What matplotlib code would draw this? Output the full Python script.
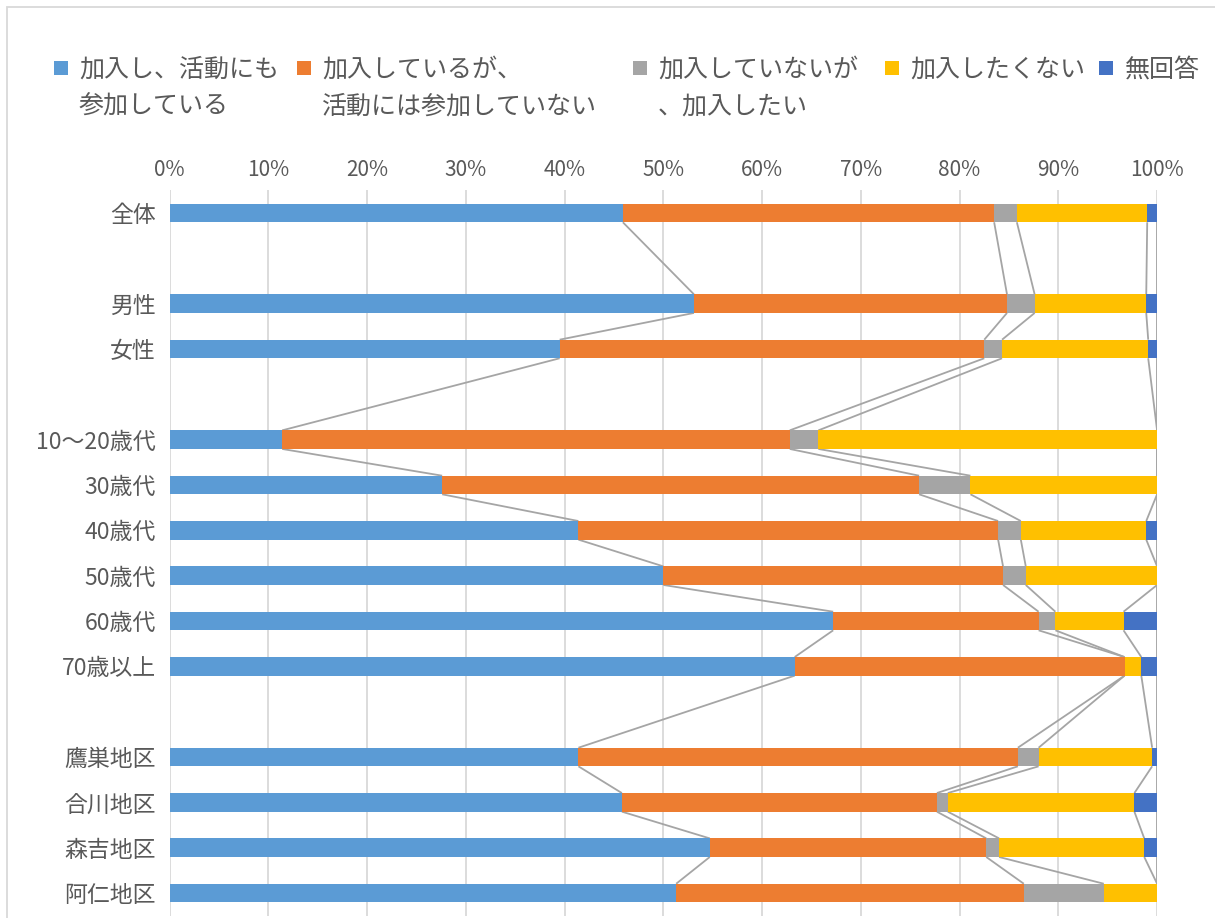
import matplotlib
matplotlib.use("Agg")
import matplotlib.pyplot as plt
from matplotlib.patches import Rectangle
import numpy as np

plt.rcParams['font.family'] = ['Noto Sans CJK JP', 'DejaVu Sans']

# ---- data ----
categories = ['全体', '', '男性', '女性', '', '10〜20歳代', '30歳代', '40歳代', '50歳代',
              '60歳代', '70歳以上', '', '鷹巣地区', '合川地区', '森吉地区', '阿仁地区']
series_names = ['加入し、活動にも\n参加している', '加入しているが、\n活動には参加していない',
                '加入していないが\n、加入したい', '加入したくない', '無回答']
colors = ['#5B9BD5', '#ED7D31', '#A5A5A5', '#FFC000', '#4472C4']

s_active = [45.9, None, 53.1, 39.5, None, 11.4, 27.6, 41.4, 50.0, 67.2, 63.3, None, 41.4, 45.8, 54.7, 51.3]
s_inactive = [37.6, None, 31.7, 43.0, None, 51.4, 48.3, 42.5, 34.4, 20.8, 33.4, None, 44.5, 31.9, 28.0, 35.2]
s_want = [2.3, None, 2.8, 1.8, None, 2.9, 5.2, 2.3, 2.3, 1.7, 0.0, None, 2.1, 1.1, 1.3, 8.1]
s_not_want = [13.2, None, 11.3, 14.8, None, 34.3, 18.9, 12.7, 13.3, 6.9, 1.7, None, 11.5, 18.9, 14.7, 5.4]
s_noans = [1.0, None, 1.1, 0.9, None, 0.0, 0.0, 1.1, 0.0, 3.4, 1.6, None, 0.5, 2.3, 1.3, 0.0]
series = [s_active, s_inactive, s_want, s_not_want, s_noans]
xticks = [0, 10, 20, 30, 40, 50, 60, 70, 80, 90, 100]

W, H = 1215, 918
fig = plt.figure(figsize=(W / 100, H / 100), dpi=100)
ax = fig.add_axes([169.6 / W, (H - 915.7) / H, (1157.1 - 169.6) / W, (915.7 - 190.3) / H])

text_col = '#595959'
bar_h = 0.41
n = len(categories)
idx = [i for i, c in enumerate(categories) if c != '']
ypos = np.arange(n)

left = np.zeros(n)
cums = []
for vals, col in zip(series, colors):
    v = np.array([np.nan if x is None else x for x in vals], dtype=float)
    ax.barh(ypos[idx], v[idx], left=left[idx], height=bar_h, color=col, zorder=3)
    left = left + np.nan_to_num(v)
    cums.append(left.copy())

# series lines
for cum in cums:
    for a, b in zip(idx[:-1], idx[1:]):
        ax.plot([cum[a], cum[b]], [ypos[a] + bar_h / 2, ypos[b] - bar_h / 2],
                color='#A5A5A5', lw=1.3, zorder=2, solid_capstyle='butt')

ax.set_xlim(0, 100)
ax.set_ylim(n - 0.5, -0.5)
ax.set_xticks(xticks)
ax.set_xticklabels([f'{t}%' for t in xticks])
ax.xaxis.tick_top()
ax.set_yticks(ypos[idx])
ax.set_yticklabels([categories[i] for i in idx])
ax.tick_params(axis='x', length=0, pad=6.5, labelsize=15, labelcolor=text_col)
ax.tick_params(axis='y', length=0, pad=10, labelsize=16.5, labelcolor=text_col)
ax.grid(axis='x', color='#D9D9D9', lw=1.3, zorder=0)
ax.set_axisbelow(True)
for sp in ax.spines.values():
    sp.set_visible(False)

# chart border (top/left visible, rest cropped)
fig.add_artist(Rectangle((6.5 / W, -0.1), 1.2, 1 - 6.5 / H + 0.1, transform=fig.transFigure,
                         fill=False, edgecolor='#D9D9D9', lw=1.3))

# legend
mk_x = [54, 297, 633, 885, 1099]
tx_x = [79, 322, 658, 910, 1125]
for name, col, mx, tx in zip(series_names, colors, mk_x, tx_x):
    fig.add_artist(Rectangle((mx / W, 1 - 75 / H), 14 / W, 14 / H, transform=fig.transFigure,
                             color=col, lw=0))
    for k, line in enumerate(name.split('\n')):
        fig.text(tx / W, 1 - (70 + 37 * k) / H, line, fontsize=18, color=text_col,
                 ha='left', va='center')

fig.savefig('out.png', dpi=100)
